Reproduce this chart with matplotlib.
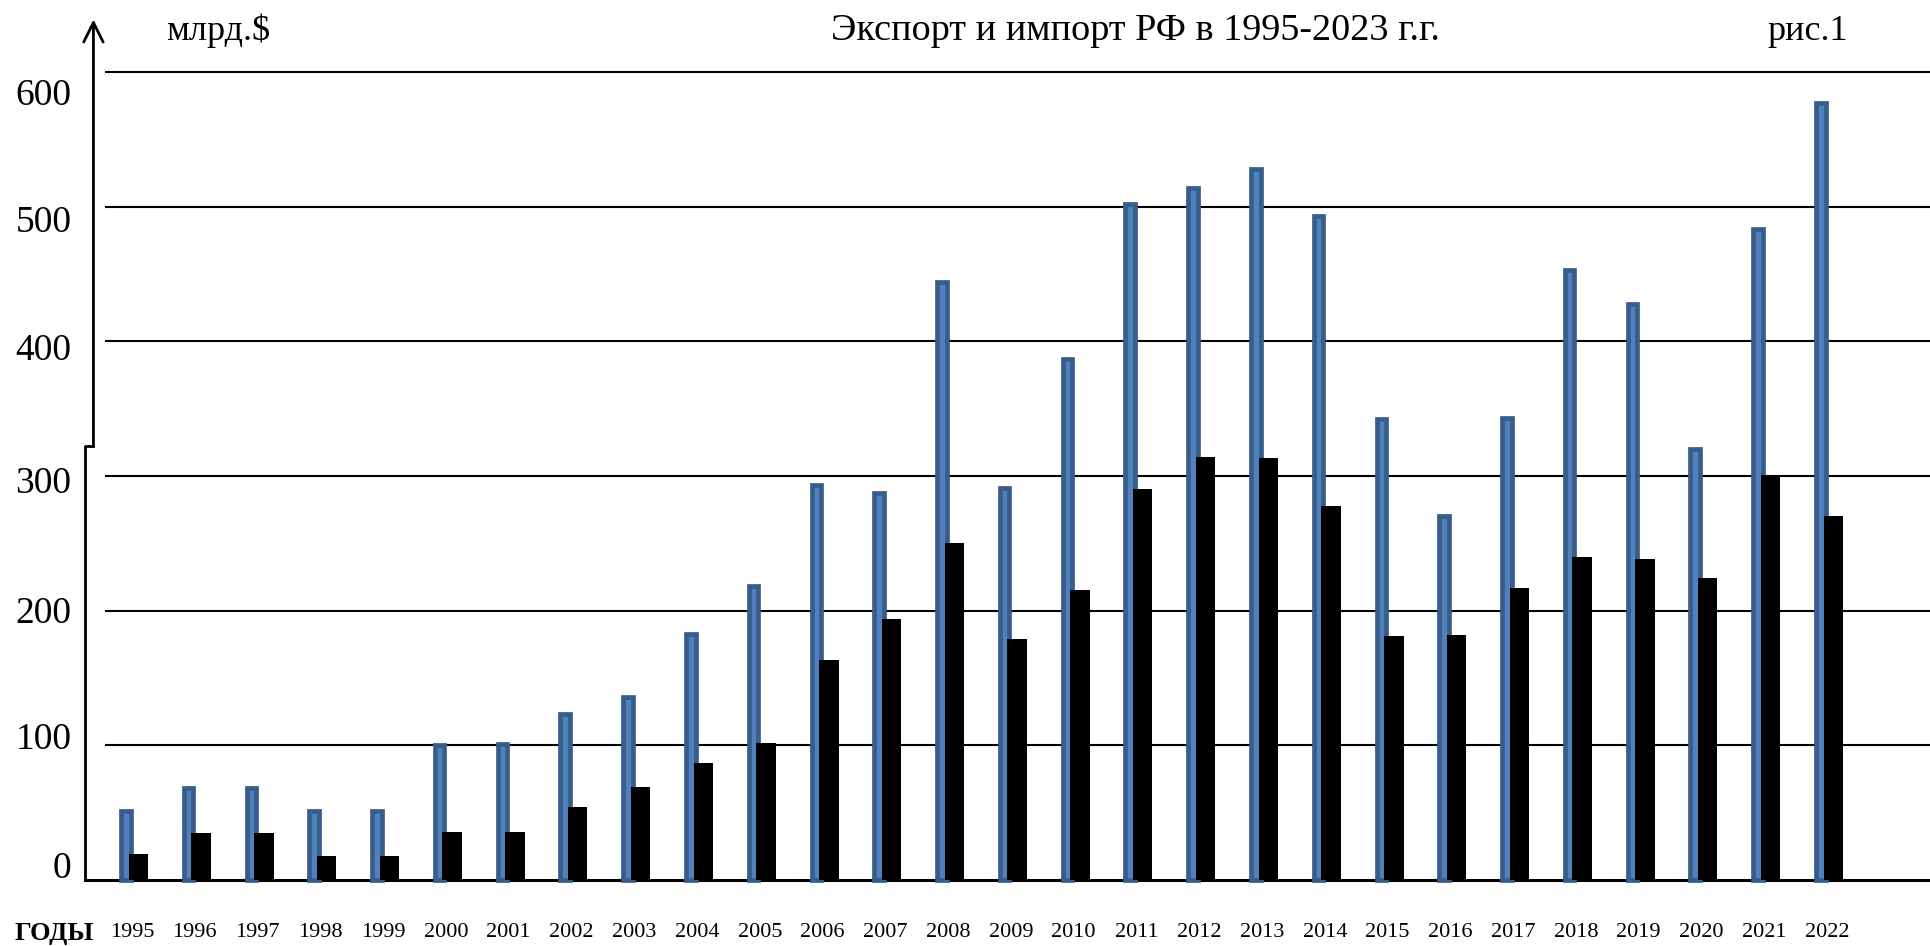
# export / import of Russia, 1995-2022, bar chart
import numpy as np
import matplotlib
matplotlib.use('Agg')
import matplotlib.pyplot as plt

plt.rcParams['font.family'] = ['Liberation Serif', 'DejaVu Serif']

# ==== data (млрд.$) ====
years = ['1995', '1996', '1997', '1998', '1999', '2000', '2001', '2002',
         '2003', '2004', '2005', '2006', '2007', '2008', '2009', '2010',
         '2011', '2012', '2013', '2014', '2015', '2016', '2017', '2018',
         '2019', '2020', '2021', '2022']
export = [51, 68, 68, 51, 51, 100, 101, 123, 136, 183, 218, 293, 287, 444,
          291, 387, 502, 514, 528, 493, 342, 270, 343, 453, 428, 320, 483, 577]
imports = [19, 35, 35, 18, 18, 36, 36, 54, 69, 87, 102, 163, 194, 250,
           179, 215, 290, 314, 313, 278, 181, 182, 217, 240, 238, 224, 301, 270]
yticks = [0, 100, 200, 300, 400, 500, 600]

# ==== settings ====
c_face = '#4f81bd'
c_edge = '#385d8a'
n = len(years)
x = np.arange(n)
# the hand-placed labels sit a bit off their grid lines
label_shift = [11, 7, 1, -3, -4, -9, -15]

fig = plt.figure(figsize=(19.3, 9.46), dpi=100)
ax = fig.add_axes([0.0435, 0.0555, 0.9565, 0.9397])
xmin, xmax = -0.666, 28.74
ax.set_xlim(xmin, xmax)
ax.set_ylim(-10, 650)

# grid lines
for v in yticks[1:]:
    ax.hlines(v, -0.33, xmax, color='black', lw=1.5, zorder=1)
ax.hlines(0, xmin, xmax, color='black', lw=2.2, zorder=1)

# bars
ax.bar(x, export, width=0.152, color=c_face, edgecolor=c_edge, lw=3.4, zorder=2)
ax.bar(x + 0.2, imports, width=0.31, color='black', zorder=3)

# y axis with arrow
ax.annotate('', xy=(-0.515, 641), xytext=(-0.515, 320),
            arrowprops=dict(arrowstyle='->', lw=2, color='black',
                            mutation_scale=35), annotation_clip=False)
ax.plot([-0.515, -0.515, -0.655, -0.655], [322, 322, 322, 0],
        color='black', lw=2, clip_on=False, zorder=4)

for s in ax.spines.values():
    s.set_visible(False)
ax.set_yticks([v + d for v, d in zip(yticks, label_shift)])
ax.set_yticklabels([str(v) for v in yticks], fontsize=27)
ax.set_xticks(x + 0.1)
ax.set_xticklabels(years, fontsize=16)
ax.tick_params(axis='y', length=0, pad=9)
ax.tick_params(axis='x', length=0, pad=21)

# texts
fig.text(218/1930, 1 - 31/946, 'млрд.$', fontsize=26, ha='center', va='center')
fig.text(1135/1930, 1 - 31/946, 'Экспорт и импорт РФ в 1995-2023 г.г.',
         fontsize=27.5, ha='center', va='center')
fig.text(1808/1930, 1 - 31/946, 'рис.1', fontsize=26, ha='center', va='center')
fig.text(54/1930, 1 - 933/946, 'ГОДЫ', fontsize=19, fontweight='bold',
         ha='center', va='center')

fig.savefig('out.png', dpi=100)
